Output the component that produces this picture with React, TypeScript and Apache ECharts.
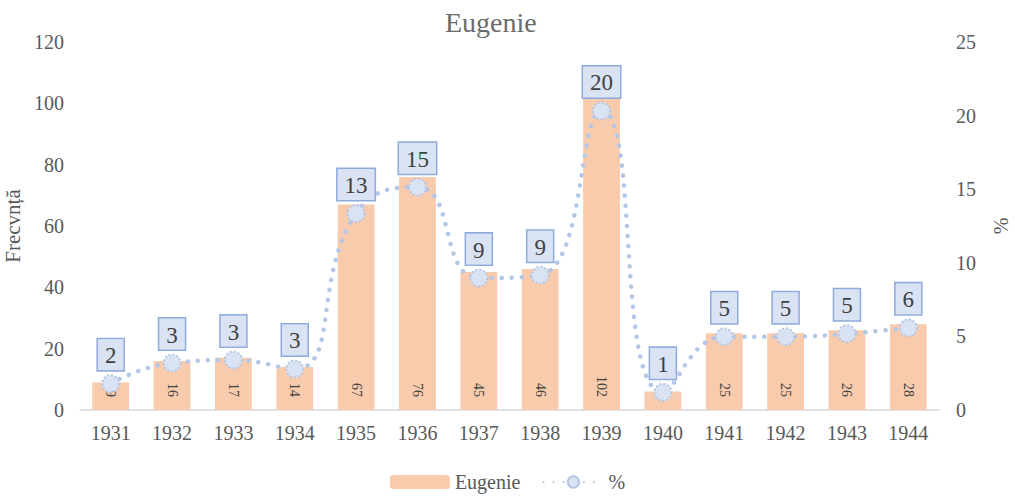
import React, { useEffect, useRef } from "react";
import * as echarts from "echarts";

const years = ["1931", "1932", "1933", "1934", "1935", "1936", "1937", "1938", "1939", "1940", "1941", "1942", "1943", "1944"];
const counts = [9, 16, 17, 14, 67, 76, 45, 46, 102, 6, 25, 25, 26, 28];
const percents = [1.79, 3.19, 3.39, 2.79, 13.35, 15.14, 8.96, 9.16, 20.32, 1.2, 4.98, 4.98, 5.18, 5.58];

const FONT = "'Liberation Serif', 'Times New Roman', serif";

export default function App() {
  const ref = useRef<HTMLDivElement>(null);
  useEffect(() => {
    const chart = echarts.init(ref.current!, undefined, { renderer: "svg" });
    chart.setOption({
      animation: false,
      textStyle: { fontFamily: FONT },
      title: {
        text: "Eugenie",
        left: 440,
        top: 3,
        textStyle: { fontFamily: FONT, fontSize: 28, fontWeight: "normal", color: "#6B6B6B" },
      },
      legend: {
        bottom: 3,
        left: "center",
        itemWidth: 60,
        itemHeight: 14,
        itemGap: 22,
        textStyle: { fontFamily: FONT, fontSize: 20, color: "#595959" },
        data: ["Eugenie", "%"],
      },
      grid: { left: 80, right: 76, top: 42, bottom: 90, containLabel: false, outerBoundsMode: "none" },
      xAxis: {
        type: "category",
        data: years,
        axisLine: { lineStyle: { color: "#D9D9D9", width: 1.5 } },
        axisTick: { show: false },
        axisLabel: { fontFamily: FONT, fontSize: 20, color: "#595959", margin: 13 },
      },
      yAxis: [
        {
          type: "value",
          min: 0,
          max: 120,
          interval: 20,
          name: "Frecvnță",
          nameLocation: "middle",
          nameGap: 55,
          nameTextStyle: { fontFamily: FONT, fontSize: 21, color: "#595959" },
          splitLine: { show: false },
          axisLine: { show: false },
          axisTick: { show: false },
          axisLabel: { fontFamily: FONT, fontSize: 20, color: "#595959", margin: 16 },
        },
        {
          type: "value",
          min: 0,
          max: 25,
          interval: 5,
          name: "%",
          nameLocation: "middle",
          nameGap: 52,
          nameTextStyle: { fontFamily: FONT, fontSize: 20, color: "#595959" },
          splitLine: { show: false },
          axisLine: { show: false },
          axisTick: { show: false },
          axisLabel: { fontFamily: FONT, fontSize: 20, color: "#595959", margin: 17 },
        },
      ],
      series: [
        {
          name: "Eugenie",
          type: "bar",
          data: counts,
          barWidth: "60%",
          itemStyle: { color: "#F8CBAD" },
          label: {
            show: true,
            position: "insideBottom",
            rotate: -90,
            distance: 13,
            align: "right",
            verticalAlign: "middle",
            fontFamily: FONT,
            fontSize: 14,
            color: "#404040",
          },
        },
        {
          name: "%",
          type: "line",
          yAxisIndex: 1,
          data: percents,
          smooth: true,
          symbol: "circle",
          symbolSize: 17,
          lineStyle: { color: "#B4C7E7", width: 4.5, type: [0.1, 10], cap: "round" },
          itemStyle: { color: "#DAE3F3", borderColor: "#B4C7E7", borderWidth: 2, borderType: [2, 2] },
          label: {
            show: true,
            position: "top",
            distance: 4,
            formatter: (p: any) => Math.round(p.value).toString(),
            fontFamily: FONT,
            fontSize: 23,
            color: "#404040",
            backgroundColor: "#DAE3F3",
            borderColor: "#8FAADC",
            borderWidth: 1.5,
            padding: [5, 7, 3, 7],
          },
        },
      ],
    });
    return () => chart.dispose();
  }, []);
  return <div ref={ref} style={{ width: 1015, height: 500, position: "absolute", left: 0, top: 0 }} />;
}
